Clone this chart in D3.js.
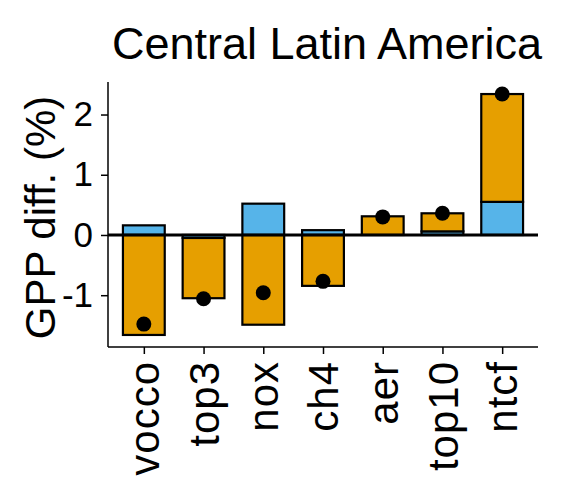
<!DOCTYPE html>
<html lang="en">
<head>
<meta charset="UTF-8">
<title>Central Latin America</title>
<script src="https://d3js.org/d3.v7.min.js"></script>
<style>
  html, body { margin: 0; background: #fff; }
  text { font-family: "Liberation Sans", Arial, sans-serif; fill: #000; }
</style>
</head>
<body>
<div id="vis"></div>
<script>
// data
var categories = ['vocco', 'top3', 'nox', 'ch4', 'aer', 'top10', 'ntcf'];
var blueVals   = [0.16, -0.05, 0.52, 0.08, 0.0, 0.06, 0.55];
var orangeVals = [-1.66, -1.0, -1.49, -0.845, 0.31, 0.30, 1.79];
var netVals    = [-1.48, -1.06, -0.96, -0.77, 0.30, 0.36, 2.34];
var yTicks     = [-1, 0, 1, 2];

var W = 577, H = 490;
var margin = { top: 82, bottom: 143, left: 108, right: 39 };
var width = W - margin.left - margin.right;
var height = H - margin.top - margin.bottom;

var svg = d3.select('#vis').append('svg')
    .attr('width', W)
    .attr('height', H);

var g = svg.append('g')
    .attr('transform', 'translate(' + margin.left + ',' + margin.top + ')');

// ggplot-like discrete scale: 0.6 units of padding on each side
var x = d3.scalePoint()
    .domain(categories)
    .range([0, width])
    .padding(0.6);
var step = x.step();
var barW = step * 0.7;

// stack blue first, then orange, positives and negatives separately
var rows = categories.map(function(c, i) {
    var segs = [];
    var pos = 0, neg = 0;
    [['blue', blueVals[i]], ['orange', orangeVals[i]]].forEach(function(p) {
        var v = p[1];
        if (v >= 0) { segs.push({ cat: c, key: p[0], y0: pos, y1: pos + v }); pos += v; }
        else { segs.push({ cat: c, key: p[0], y0: neg, y1: neg + v }); neg += v; }
    });
    return segs;
});
var segs = [].concat.apply([], rows);

var lo = d3.min(segs, function(d) { return Math.min(d.y0, d.y1); });
var hi = d3.max(segs, function(d) { return Math.max(d.y0, d.y1); });
var pad = (hi - lo) * 0.05;

var y = d3.scaleLinear()
    .domain([lo - pad, hi + pad])
    .range([height, 0]);

var colour = { blue: '#56B4E9', orange: '#E69F00' };

g.selectAll('.bar')
    .data(segs.filter(function(d) { return d.y1 !== d.y0; }))
    .enter().append('rect')
    .attr('class', 'bar')
    .attr('x', function(d) { return x(d.cat) - barW / 2; })
    .attr('width', barW)
    .attr('y', function(d) { return y(Math.max(d.y0, d.y1)); })
    .attr('height', function(d) { return Math.abs(y(d.y0) - y(d.y1)); })
    .attr('fill', function(d) { return colour[d.key]; })
    .attr('stroke', '#000')
    .attr('stroke-width', 2.2);

// zero line
g.append('line')
    .attr('x1', 0).attr('x2', width)
    .attr('y1', y(0)).attr('y2', y(0))
    .attr('stroke', '#000')
    .attr('stroke-width', 3);

// net points
g.selectAll('.dot')
    .data(netVals)
    .enter().append('circle')
    .attr('class', 'dot')
    .attr('cx', function(d, i) { return x(categories[i]); })
    .attr('cy', function(d) { return y(d); })
    .attr('r', 7.5)
    .attr('fill', '#000');

// axes
var yAxis = d3.axisLeft(y).tickValues(yTicks).tickSize(7).tickPadding(8)
    .tickFormat(function(d) { return d < 0 ? '-' + Math.abs(d) : d; });
var ya = g.append('g').call(yAxis);
ya.select('.domain').attr('d', 'M0,0V' + height).attr('stroke-width', 1.5);
ya.selectAll('.tick line').attr('stroke-width', 1.5);
ya.selectAll('.tick text')
    .style('font-size', '35px')
    .attr('font-family', null);

var xAxis = d3.axisBottom(x).tickSize(7);
var xa = g.append('g').attr('transform', 'translate(0,' + height + ')').call(xAxis);
xa.select('.domain').attr('d', 'M0,0H' + width).attr('stroke-width', 1.5);
xa.selectAll('.tick line').attr('stroke-width', 1.5);
xa.selectAll('.tick text')
    .attr('font-family', null)
    .style('font-size', '42px')
    .style('letter-spacing', '1px')
    .attr('text-anchor', 'end')
    .attr('transform', 'rotate(-90)')
    .attr('x', -14)
    .attr('y', 0)
    .attr('dy', '0.35em');

// titles
svg.append('text')
    .attr('x', margin.left + width / 2 + 4)
    .attr('y', 59)
    .attr('text-anchor', 'middle')
    .style('font-size', '45px')
    .text('Central Latin America');

svg.append('text')
    .attr('transform', 'translate(55,' + (margin.top + height / 2 + 3) + ') rotate(-90)')
    .attr('text-anchor', 'middle')
    .style('font-size', '42px')
    .text('GPP diff. (%)');
</script>
</body>
</html>
